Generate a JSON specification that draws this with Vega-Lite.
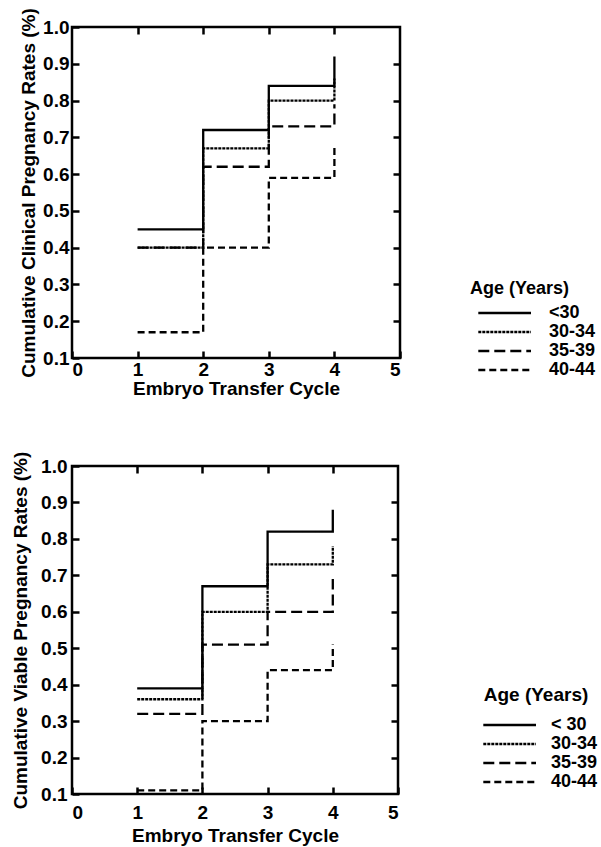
{
  "$schema": "https://vega.github.io/schema/vega-lite/v6.json",
  "padding": {"left": 10, "top": 6, "right": 0, "bottom": 0},
  "config": {
    "font": "Liberation Sans",
    "view": {"stroke": "black", "strokeWidth": 2.5},
    "axis": {
      "labelFont": "Liberation Sans", "labelFontWeight": "bold", "labelFontSize": 19, "labelColor": "black",
      "titleFont": "Liberation Sans", "titleFontWeight": "bold", "titleFontSize": 19, "titleColor": "black",
      "grid": false, "domain": false, "tickColor": "black", "tickWidth": 2.5, "tickSize": -7
    },
    "legend": {
      "titleFont": "Liberation Sans", "titleFontWeight": "bold", "titleFontSize": 18, "titleColor": "black",
      "labelFont": "Liberation Sans", "labelFontWeight": "bold", "labelFontSize": 18, "labelColor": "black",
      "symbolType": "M-0.2,0H6", "symbolSize": 289, "symbolStrokeWidth": 2.5, "symbolStrokeColor": "black",
      "symbolFillColor": "transparent", "rowPadding": 0
    },
    "concat": {"spacing": 49}
  },
  "datasets": {
    "rates": [
      {"panel": "clinical", "age": "<30", "cycle": 1, "rate": 0.45},
      {"panel": "clinical", "age": "<30", "cycle": 2, "rate": 0.72},
      {"panel": "clinical", "age": "<30", "cycle": 3, "rate": 0.84},
      {"panel": "clinical", "age": "<30", "cycle": 4, "rate": 0.92},
      {"panel": "clinical", "age": "30-34", "cycle": 1, "rate": 0.40},
      {"panel": "clinical", "age": "30-34", "cycle": 2, "rate": 0.67},
      {"panel": "clinical", "age": "30-34", "cycle": 3, "rate": 0.80},
      {"panel": "clinical", "age": "30-34", "cycle": 4, "rate": 0.86},
      {"panel": "clinical", "age": "35-39", "cycle": 1, "rate": 0.40},
      {"panel": "clinical", "age": "35-39", "cycle": 2, "rate": 0.62},
      {"panel": "clinical", "age": "35-39", "cycle": 3, "rate": 0.73},
      {"panel": "clinical", "age": "35-39", "cycle": 4, "rate": 0.79},
      {"panel": "clinical", "age": "40-44", "cycle": 1, "rate": 0.17},
      {"panel": "clinical", "age": "40-44", "cycle": 2, "rate": 0.40},
      {"panel": "clinical", "age": "40-44", "cycle": 3, "rate": 0.59},
      {"panel": "clinical", "age": "40-44", "cycle": 4, "rate": 0.68},
      {"panel": "viable", "age": "< 30", "cycle": 1, "rate": 0.39},
      {"panel": "viable", "age": "< 30", "cycle": 2, "rate": 0.67},
      {"panel": "viable", "age": "< 30", "cycle": 3, "rate": 0.82},
      {"panel": "viable", "age": "< 30", "cycle": 4, "rate": 0.88},
      {"panel": "viable", "age": "30-34", "cycle": 1, "rate": 0.36},
      {"panel": "viable", "age": "30-34", "cycle": 2, "rate": 0.60},
      {"panel": "viable", "age": "30-34", "cycle": 3, "rate": 0.73},
      {"panel": "viable", "age": "30-34", "cycle": 4, "rate": 0.78},
      {"panel": "viable", "age": "35-39", "cycle": 1, "rate": 0.32},
      {"panel": "viable", "age": "35-39", "cycle": 2, "rate": 0.51},
      {"panel": "viable", "age": "35-39", "cycle": 3, "rate": 0.60},
      {"panel": "viable", "age": "35-39", "cycle": 4, "rate": 0.69},
      {"panel": "viable", "age": "40-44", "cycle": 1, "rate": 0.11},
      {"panel": "viable", "age": "40-44", "cycle": 2, "rate": 0.30},
      {"panel": "viable", "age": "40-44", "cycle": 3, "rate": 0.44},
      {"panel": "viable", "age": "40-44", "cycle": 4, "rate": 0.51}
    ]
  },
  "resolve": {
    "scale": {"strokeDash": "independent", "x": "independent", "y": "independent"},
    "legend": {"strokeDash": "independent"}
  },
  "vconcat": [
    {
      "width": 328, "height": 331,
      "data": {"name": "rates"},
      "transform": [{"filter": "datum.panel == 'clinical'"}],
      "resolve": {"axis": {"x": "independent", "y": "independent"}},
      "layer": [
        {
          "mark": {"type": "line", "interpolate": "step-after", "color": "black", "strokeWidth": 2.3},
          "encoding": {
            "x": {"field": "cycle", "type": "quantitative", "scale": {"domain": [0, 5], "nice": false},
                  "axis": {"values": [0, 1, 2, 3, 4, 5], "title": "Embryo Transfer Cycle", "labelPadding": 9, "titlePadding": 0}},
            "y": {"field": "rate", "type": "quantitative", "scale": {"domain": [0.1, 1.0], "nice": false, "zero": false},
                  "axis": {"values": [0.1, 0.2, 0.3, 0.4, 0.5, 0.6, 0.7, 0.8, 0.9, 1.0], "format": ".1f", "title": "Cumulative Clinical Pregnancy Rates (%)", "labelPadding": 10, "titlePadding": 4}},
            "strokeDash": {"field": "age", "type": "nominal",
              "scale": {"domain": ["<30", "30-34", "35-39", "40-44"], "range": [[1, 0], [3, 1], [11, 5], [7, 4]]},
              "legend": {"title": "Age (Years)", "orient": "none", "legendX": 398, "legendY": 253, "titlePadding": 5, "labelOffset": 59}}
          }
        },
        {
          "mark": {"type": "point", "opacity": 0},
          "encoding": {
            "x": {"field": "cycle", "type": "quantitative", "axis": {"orient": "top", "values": [1, 2, 3, 4], "labels": false, "title": null}},
            "y": {"field": "rate", "type": "quantitative", "axis": {"orient": "right", "values": [0.2, 0.3, 0.4, 0.5, 0.6, 0.7, 0.8, 0.9], "labels": false, "title": null}}
          }
        }
      ]
    },
    {
      "width": 326, "height": 328,
      "data": {"name": "rates"},
      "transform": [{"filter": "datum.panel == 'viable'"}],
      "resolve": {"axis": {"x": "independent", "y": "independent"}},
      "layer": [
        {
          "mark": {"type": "line", "interpolate": "step-after", "color": "black", "strokeWidth": 2.3},
          "encoding": {
            "x": {"field": "cycle", "type": "quantitative", "scale": {"domain": [0, 5], "nice": false},
                  "axis": {"values": [0, 1, 2, 3, 4, 5], "title": "Embryo Transfer Cycle", "labelPadding": 16, "titlePadding": 4}},
            "y": {"field": "rate", "type": "quantitative", "scale": {"domain": [0.1, 1.0], "nice": false, "zero": false},
                  "axis": {"values": [0.1, 0.2, 0.3, 0.4, 0.5, 0.6, 0.7, 0.8, 0.9, 1.0], "format": ".1f", "title": "Cumulative Viable Pregnancy Rates (%)", "labelPadding": 12, "titlePadding": 10}},
            "strokeDash": {"field": "age", "type": "nominal",
              "scale": {"domain": ["< 30", "30-34", "35-39", "40-44"], "range": [[1, 0], [3, 1], [11, 5], [7, 4]]},
              "legend": {"title": "Age (Years)", "titleFontSize": 19, "titleAnchor": "middle", "orient": "none", "legendX": 403, "legendY": 220, "titlePadding": 10, "labelOffset": 56}}
          }
        },
        {
          "mark": {"type": "point", "opacity": 0},
          "encoding": {
            "x": {"field": "cycle", "type": "quantitative", "axis": {"orient": "top", "values": [1, 2, 3, 4], "labels": false, "title": null}},
            "y": {"field": "rate", "type": "quantitative", "axis": {"orient": "right", "values": [0.2, 0.3, 0.4, 0.5, 0.6, 0.7, 0.8, 0.9], "labels": false, "title": null}}
          }
        }
      ]
    }
  ]
}
